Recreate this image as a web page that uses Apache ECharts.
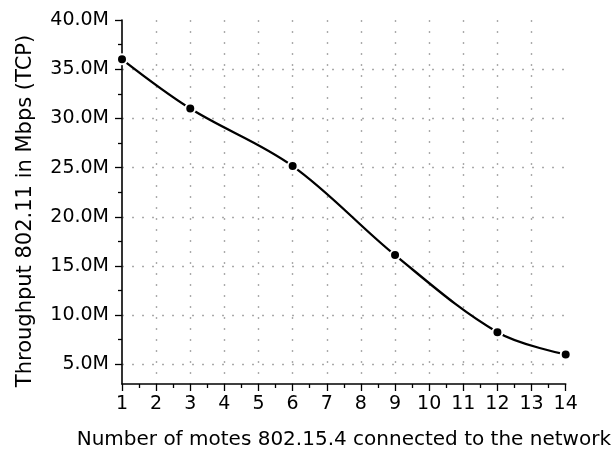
<!DOCTYPE html>
<html>
<head>
<meta charset="utf-8">
<script src="https://cdn.jsdelivr.net/npm/echarts@6/dist/echarts.min.js"></script>
<style>
  html, body { margin: 0; padding: 0; background: #fff; }
  #main { width: 614px; height: 457px; }
</style>
</head>
<body>
<div id="main"></div>
<script>
// motes vs throughput (Mbps, shown as M)
var motes = [1, 3, 6, 9, 12, 14];
var throughput = [36.0, 31.0, 25.15, 16.1, 8.27, 6.0];
var yTicks = [5, 10, 15, 20, 25, 30, 35, 40];
var yMinorTicks = [7.5, 12.5, 17.5, 22.5, 27.5, 32.5, 37.5];

var chart = echarts.init(document.getElementById('main'));
var font = 'DejaVu Sans';

var points = motes.map(function (m, i) { return [m, throughput[i]]; });

var option = {
  animation: false,
  grid: { left: 122, right: 46, top: 20, bottom: 73 },
  xAxis: {
    type: 'value',
    min: 1,
    max: 14,
    interval: 1,
    name: 'Number of motes 802.15.4 connected to the network',
    nameLocation: 'middle',
    nameGap: 46,
    nameTextStyle: { fontFamily: font, fontSize: 20, color: '#000' },
    axisLine: { lineStyle: { color: '#000', width: 1.6 } },
    axisTick: { length: 7, lineStyle: { color: '#000', width: 1.3 } },
    minorTick: { show: true, splitNumber: 2, length: 4, lineStyle: { color: '#000', width: 1.3 } },
    axisLabel: { fontFamily: font, fontSize: 19, color: '#000', margin: 11 },
    splitLine: {
      show: true, showMinLine: false, showMaxLine: false,
      lineStyle: { color: '#aaa', type: [2, 9], width: 1.4 }
    }
  },
  yAxis: [{
    type: 'value',
    min: 3,
    max: 40,
    name: 'Throughput 802.11 in Mbps (TCP)',
    nameLocation: 'middle',
    nameGap: 86,
    nameTextStyle: { fontFamily: font, fontSize: 21, color: '#000', padding: [0, 18, 0, 0] },
    axisLine: { show: true, lineStyle: { color: '#000', width: 1.6 } },
    axisTick: { show: true, length: 7, customValues: yTicks, lineStyle: { color: '#000', width: 1.3 } },
    axisLabel: {
      fontFamily: font, fontSize: 19, color: '#000', margin: 13,
      customValues: yTicks,
      formatter: function (v) { return v.toFixed(1) + 'M'; }
    },
    splitLine: {
      show: true, showMaxLine: false,
      lineStyle: { color: '#aaa', type: [2, 8], width: 1.4 }
    }
  }, {
    type: 'value',
    min: 3,
    max: 40,
    position: 'left',
    axisLine: { show: false },
    axisTick: { show: true, length: 4, customValues: yMinorTicks, lineStyle: { color: '#000', width: 1.3 } },
    axisLabel: { show: false },
    splitLine: { show: false }
  }],
  series: [{
    type: 'line',
    data: points,
    smooth: 0.35,
    symbol: 'circle',
    symbolSize: 10,
    lineStyle: { color: '#000', width: 2.3 },
    itemStyle: { color: '#000', borderColor: '#fff', borderWidth: 2 },
    z: 3
  }]
};

chart.setOption(option);
</script>
</body>
</html>
